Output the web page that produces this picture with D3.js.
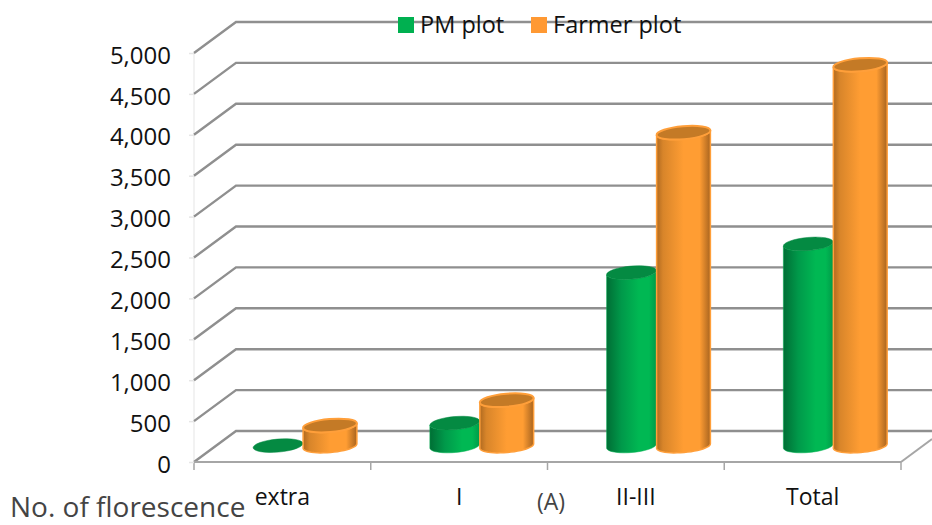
<!DOCTYPE html>
<html>
<head>
<meta charset="utf-8">
<script src="https://cdn.jsdelivr.net/npm/d3@7"></script>
<style>
  html, body { margin: 0; padding: 0; background: #fff; }
  text { font-family: "Open Sans", sans-serif; }
</style>
</head>
<body>
<div id="chart"></div>
<script>
const categories = ["extra", "I", "II-III", "Total"];
const seriesNames = ["PM plot", "Farmer plot"];
const pmValues = [5, 280, 2120, 2470];
const farmerValues = [250, 560, 3830, 4660];
const yTicks = [0, 500, 1000, 1500, 2000, 2500, 3000, 3500, 4000, 4500, 5000];

const width = 932, height = 525;
const colors = {
  "PM plot": {
    top: "#048a42", stroke: "#00b050", key: "#00b050",
    stops: [[0, "#006e35"], [0.3, "#00994a"], [0.65, "#00b853"], [0.85, "#00b853"], [1, "#009a48"]]
  },
  "Farmer plot": {
    top: "#c47a26", stroke: "#ff9f3a", key: "#ff9933",
    stops: [[0, "#b06a20"], [0.12, "#d8852a"], [0.5, "#ff9d33"], [0.8, "#ff9d33"], [1, "#a8641f"]]
  }
};

// how far the back wall sits from the front axis
const depth = {x: 42, y: -31};
// the bars stand about half way into the floor
const barDy = -16;
const rx = {"PM plot": 25, "Farmer plot": 27};
const ry = 6.5, tilt = -5;

const svg = d3.select("#chart").append("svg")
  .attr("width", width)
  .attr("height", height)
  .style("display", "block");

const xScale = d3.scaleBand().domain(categories).range([194, 901]);
const inner = d3.scaleBand().domain(seriesNames).range([58, 162]);
const yScale = d3.scaleLinear().domain([0, 5000]).range([462, 53]);

// gradients for the round sides
const defs = svg.append("defs");
seriesNames.forEach((name, i) => {
  const g = defs.append("linearGradient").attr("id", "side" + i);
  colors[name].stops.forEach(s => {
    g.append("stop").attr("offset", s[0]).attr("stop-color", s[1]);
  });
});

// left wall axis line
svg.append("line")
  .attr("x1", 194).attr("x2", 194)
  .attr("y1", yScale(0)).attr("y2", yScale(5000))
  .attr("stroke", "#eeeeee").attr("stroke-width", 1.5);

// walls: one bent line per tick
const grid = svg.append("g").attr("fill", "none").attr("stroke", "#8f8f8f").attr("stroke-width", 2.4);
yTicks.forEach(t => {
  grid.append("path").attr("d", d3.line()([
    [194, yScale(t)],
    [194 + depth.x, yScale(t) + depth.y],
    [932, yScale(t) + depth.y]
  ]));
});

// right edge of the floor
svg.append("line")
  .attr("x1", xScale.range()[1]).attr("y1", yScale(0))
  .attr("x2", 932).attr("y2", yScale(0) - 23)
  .attr("stroke", "#a6a6a6").attr("stroke-width", 2);

// floor front line and the ticks between categories
const edges = categories.map(c => xScale(c)).concat([xScale.range()[1]]);
svg.append("line")
  .attr("x1", 194).attr("x2", 901)
  .attr("y1", yScale(0)).attr("y2", yScale(0))
  .attr("stroke", "#a6a6a6").attr("stroke-width", 2);
svg.selectAll(".edge").data(edges).enter().append("line")
  .attr("class", "edge")
  .attr("x1", d => d).attr("x2", d => d)
  .attr("y1", yScale(0)).attr("y2", yScale(0) + 8)
  .attr("stroke", "#a6a6a6").attr("stroke-width", 1.5);

// y axis
const yAxis = svg.append("g")
  .attr("transform", "translate(194,0)")
  .call(d3.axisLeft(yScale).tickValues(yTicks).tickFormat(d3.format(",")).tickSize(5).tickPadding(18));
yAxis.select(".domain").remove();
yAxis.selectAll("line").attr("stroke", "#e6e6e6").attr("stroke-width", 1.5);
yAxis.selectAll("text")
  .attr("y", 2.5)
  .attr("font-size", 24)
  .attr("fill", "#111")
  .style("font-family", '"Open Sans", sans-serif');

// x axis labels only
const xAxis = svg.append("g")
  .attr("transform", `translate(0,${yScale(0)})`)
  .call(d3.axisBottom(xScale).tickSize(0).tickPadding(27));
xAxis.select(".domain").remove();
xAxis.selectAll("text")
  .attr("font-size", 23)
  .attr("fill", "#111")
  .style("font-family", '"Open Sans", sans-serif');

// cylinders
const rows = [];
categories.forEach((c, i) => {
  rows.push({cat: c, name: "PM plot", value: pmValues[i], idx: 0});
  rows.push({cat: c, name: "Farmer plot", value: farmerValues[i], idx: 1});
});

const rad = tilt * Math.PI / 180;

// point on the tilted ellipse at angle t around (cx, cy)
function rimPoint(cx, cy, r, t) {
  const px = r * Math.cos(t), py = ry * Math.sin(t);
  return [cx + px * Math.cos(rad) - py * Math.sin(rad), cy + px * Math.sin(rad) + py * Math.cos(rad)];
}

const bars = svg.selectAll(".bar").data(rows).enter().append("g").attr("class", "bar");

bars.each(function(d) {
  const g = d3.select(this);
  const c = colors[d.name];
  const cx = xScale(d.cat) + inner(d.name) + inner.bandwidth() / 2;
  const yb = yScale(0) + barDy;
  const yt = yScale(d.value) + barDy;
  const r = rx[d.name];
  const flat = d.value < 20;

  if (!flat) {
    // front half of the base, then back up along the top rim
    const steps = d3.range(0, 25).map(k => k / 24 * Math.PI);
    const lower = steps.map(t => rimPoint(cx, yb, r, t));
    const upper = steps.slice().reverse().map(t => rimPoint(cx, yt, r, t));
    g.append("path")
      .attr("d", d3.line()(lower.concat(upper)) + "Z")
      .attr("fill", `url(#side${d.idx})`)
      .attr("stroke", c.stroke)
      .attr("stroke-width", d.idx === 1 ? 1.5 : 0.5);
  }
  g.append("ellipse")
    .attr("cx", cx).attr("cy", yt)
    .attr("rx", r).attr("ry", ry)
    .attr("transform", `rotate(${tilt} ${cx} ${yt})`)
    .attr("fill", c.top)
    .attr("stroke", d.idx === 1 ? c.stroke : c.top)
    .attr("stroke-width", d.idx === 1 ? 2 : 0.5);
});

// legend
const legendX = [398, 531];
seriesNames.forEach((name, i) => {
  svg.append("rect")
    .attr("x", legendX[i]).attr("y", 17)
    .attr("width", 16).attr("height", 16)
    .attr("fill", colors[name].key);
  svg.append("text")
    .attr("x", legendX[i] + 22).attr("y", 33)
    .attr("font-size", 23.5)
    .attr("fill", "#111")
    .text(name);
});

// loose captions
svg.append("text")
  .attr("x", 10).attr("y", 516.5)
  .attr("font-size", 28)
  .attr("fill", "#444")
  .text("No. of florescence");
svg.append("text")
  .attr("x", 537).attr("y", 510)
  .attr("font-size", 23)
  .attr("fill", "#444")
  .text("(A)");
</script>
</body>
</html>
